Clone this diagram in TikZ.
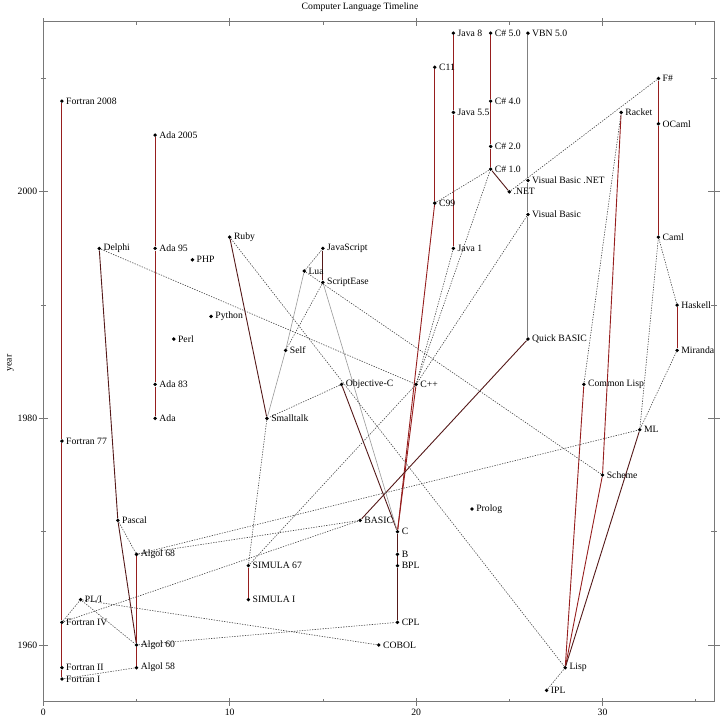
\documentclass[tikz,border=0pt]{standalone}
\usepackage{fontspec}
\setmainfont{Liberation Serif}
\pgfdeclarelayer{bg}
\pgfsetlayers{bg,main}
\definecolor{vred}{RGB}{150,30,30}
\definecolor{dred}{RGB}{85,25,25}
\definecolor{axgray}{RGB}{120,120,120}
\definecolor{dotgray}{RGB}{70,70,70}
\newcommand\lang[4]{\node[pt,label={[lbl]east:#4}] (#1) at (#2,#3) {};}
\begin{document}
\begin{tikzpicture}[x=18.64bp,y=11.33bp,
  font=\fontsize{9.7bp}{11bp}\selectfont,
  pt/.style={circle,fill=black,inner sep=0pt,minimum size=3.8bp},
  lbl/.style={inner sep=2bp},
  ver/.style={draw=vred,line width=0.9bp},
  drk/.style={draw=dred,line width=0.9bp},
  vbl/.style={draw=gray,line width=1.1bp},
  thin/.style={draw=gray!80,line width=0.6bp},
  infl/.style={draw=dotgray,line width=0.6bp,dash pattern=on 1.3bp off 1.3bp},
  axis/.style={draw=axgray,line width=0.8bp},
  ticklbl/.style={inner sep=2bp}]
\useasboundingbox (-43.3bp,-75bp) rectangle (676.7bp,645bp);
\begin{pgfonlayer}{bg}
\fill[white] (-43.3bp,-75bp) rectangle (676.7bp,645bp);
\end{pgfonlayer}
% axes
\draw[axis] (0,-5) rectangle (36,55);
\foreach \x in {0,10,20,30}{
  \draw[axis] ([yshift=-4bp]\x,-5) -- ([yshift=4bp]\x,-5);
  \draw[axis] ([yshift=-4bp]\x,55) -- ([yshift=4bp]\x,55);
  \node[ticklbl,below=5bp] at (\x,-5) {\x};}
\foreach \x in {5,15,25,35}{
  \draw[axis] (\x,-5) -- ([yshift=3bp]\x,-5);
  \draw[axis] (\x,55) -- ([yshift=-3bp]\x,55);}
\foreach \y/\t in {0/1960,20/1980,40/2000}{
  \draw[axis] ([xshift=-4.5bp]0,\y) -- ([xshift=4.5bp]0,\y);
  \draw[axis] ([xshift=-6bp]36,\y) -- ([xshift=6bp]36,\y);
  \node[ticklbl,left=4bp] at (0,\y) {\t};}
\foreach \y in {10,30,50}{
  \draw[axis] ([xshift=-2.5bp]0,\y) -- ([xshift=2.5bp]0,\y);
  \draw[axis] ([xshift=-3bp]36,\y) -- ([xshift=3bp]36,\y);}
\node (title) at (316.7bp,638bp) {Computer Language Timeline};
\node[rotate=90] (ylab) at (-33bp,282bp) {year};
% languages
\lang{fI}{1}{-3}{Fortran I}
\lang{fII}{1}{-2}{Fortran II}
\lang{fIV}{1}{2}{Fortran IV}
\lang{f77}{1}{18}{Fortran 77}
\lang{f08}{1}{48}{Fortran 2008}
\lang{pl1}{2}{4}{PL/I}
\lang{a58}{5}{-2}{Algol 58}
\lang{a60}{5}{0}{Algol 60}
\lang{a68}{5}{8}{Algol 68}
\lang{pascal}{4}{11}{Pascal}
\lang{delphi}{3}{35}{Delphi}
\lang{ada}{6}{20}{Ada}
\lang{ada83}{6}{23}{Ada 83}
\lang{ada95}{6}{35}{Ada 95}
\lang{ada05}{6}{45}{Ada 2005}
\lang{php}{8}{34}{PHP}
\lang{perl}{7}{27}{Perl}
\lang{python}{9}{29}{Python}
\lang{ruby}{10}{36}{Ruby}
\lang{smalltalk}{12}{20}{Smalltalk}
\lang{self}{13}{26}{Self}
\lang{lua}{14}{33}{Lua}
\lang{js}{15}{35}{JavaScript}
\lang{se}{15}{32}{ScriptEase}
\lang{objc}{16}{23}{Objective-C}
\lang{simI}{11}{4}{SIMULA I}
\lang{sim67}{11}{7}{SIMULA 67}
\lang{basic}{17}{11}{BASIC}
\lang{c}{19}{10}{C}
\lang{b}{19}{8}{B}
\lang{bpl}{19}{7}{BPL}
\lang{cpl}{19}{2}{CPL}
\lang{cobol}{18}{0}{COBOL}
\lang{cpp}{20}{23}{C++}
\lang{c99}{21}{39}{C99}
\lang{c11}{21}{51}{C11}
\lang{java1}{22}{35}{Java 1}
\lang{java55}{22}{47}{Java 5.5}
\lang{java8}{22}{54}{Java 8}
\lang{prolog}{23}{12}{Prolog}
\lang{cs1}{24}{42}{C\# 1.0}
\lang{cs2}{24}{44}{C\# 2.0}
\lang{cs4}{24}{48}{C\# 4.0}
\lang{cs5}{24}{54}{C\# 5.0}
\lang{net}{25}{40}{.NET}
\lang{vbnet}{26}{41}{Visual Basic .NET}
\lang{vb}{26}{38}{Visual Basic}
\lang{qb}{26}{27}{Quick BASIC}
\lang{vbn5}{26}{54}{VBN 5.0}
\lang{ipl}{27}{-4}{IPL}
\lang{lisp}{28}{-2}{Lisp}
\lang{clisp}{29}{23}{Common Lisp}
\lang{scheme}{30}{15}{Scheme}
\lang{racket}{31}{47}{Racket}
\lang{ml}{32}{19}{ML}
\lang{fsharp}{33}{50}{F\#}
\lang{ocaml}{33}{46}{OCaml}
\lang{caml}{33}{36}{Caml}
\lang{haskell}{34}{30}{Haskell}
\lang{miranda}{34}{26}{Miranda}
% connectors
\begin{pgfonlayer}{bg}
\draw[ver] (fI) -- (fII) -- (fIV) -- (f77) -- (f08);
\draw[ver] (a58) -- (a60) -- (a68);
\draw[ver] (ada) -- (ada83) -- (ada95) -- (ada05);
\draw[ver] (simI) -- (sim67);
\draw[ver] (c) -- (cpp);
\draw[ver] (c) -- (c99);
\draw[ver] (c99) -- (c11);
\draw[ver] (java1) -- (java55) -- (java8);
\draw[ver] (cs1) -- (cs2) -- (cs4) -- (cs5);
\draw[ver] (lisp) -- (clisp);
\draw[ver] (lisp) -- (scheme);
\draw[ver] (scheme) -- (racket);
\draw[ver] (caml) -- (ocaml) -- (fsharp);
\draw[ver] (haskell) -- (miranda);
\draw[drk] (a60) -- (pascal);
\draw[drk] (pascal) -- (delphi);
\draw[drk] (ruby) -- (smalltalk);
\draw[drk] (js) -- (se);
\draw[drk] (objc) -- (c);
\draw[drk] (cpl) -- (bpl) -- (b) -- (c);
\draw[drk] (cs1) -- (net);
\draw[drk] (basic) -- (qb);
\draw[drk] (lisp) -- (ml);
\draw[vbl] (qb) -- (vb) -- (vbnet) -- (vbn5);
\draw[thin] (lua) -- (self);
\draw[thin] (self) -- (smalltalk);
\draw[thin] (se) -- (c);
\draw[infl] (fI) -- (a58);
\draw[infl] (fIV) -- (pl1);
\draw[infl] (pl1) -- (a60);
\draw[infl] (pl1) -- (cobol);
\draw[infl] (a60) -- (cpl);
\draw[infl] (fIV) -- (basic);
\draw[infl] (a68) -- (basic);
\draw[infl] (a68) -- (ml);
\draw[infl] (pascal) -- (a68);
\draw[infl] (smalltalk) -- (sim67);
\draw[infl] (sim67) -- (cpp);
\draw[infl] (delphi) -- (cpp);
\draw[infl] (ruby) -- (lisp);
\draw[infl] (objc) -- (smalltalk);
\draw[infl] (lua) -- (js);
\draw[infl] (se) -- (self);
\draw[infl] (lua) -- (scheme);
\draw[infl] (cpp) -- (java1);
\draw[infl] (cpp) -- (cs1);
\draw[infl] (c99) -- (cs1);
\draw[infl] (vb) -- (cpp);
\draw[infl] (net) -- (fsharp);
\draw[infl] (clisp) -- (racket);
\draw[infl] (ml) -- (caml);
\draw[infl] (caml) -- (haskell);
\draw[infl] (miranda) -- (ml);
\draw[infl] (ipl) -- (lisp);
\end{pgfonlayer}
\end{tikzpicture}
\end{document}
